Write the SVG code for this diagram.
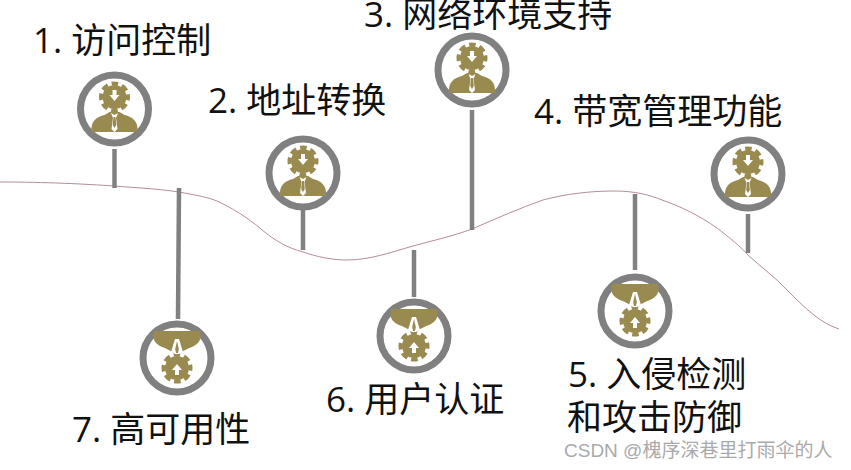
<svg xmlns="http://www.w3.org/2000/svg" width="851" height="470" viewBox="0 0 851 470">
<style>
.t{font-family:"Open Sans","Noto Sans CJK SC",sans-serif;font-size:35px;fill:#111}
.ring{fill:#fff;stroke:#808080;stroke-width:7}
.stem{stroke:#808080;stroke-width:4.5;fill:none}
.curve{fill:none;stroke:#b58e94;stroke-width:1}
.wm{font-family:"Liberation Sans","Noto Sans CJK SC",sans-serif;font-size:19px;fill:#aaa}
</style>
<defs>
<g id="gear">
<circle cx="0" cy="0" r="12" fill="#998a50"/>
<circle cx="0" cy="0" r="13.500" fill="none" stroke="#998a50" stroke-width="4" stroke-dasharray="6.600 4" stroke-dashoffset="3.300"/>
<path d="M-2 -7H2V-2H5L0 4L-5 -2H-2Z" fill="#fff"/>
</g>
<g id="icon">
<use href="#gear" y="-12"/>
<path d="M-23 23C-24 12 -18 8 -10 6L-5 3H5L10 6C18 8 24 12 23 23Z" fill="#998a50"/>
<path d="M-3.500 4L-1.500 9L-3 20L0 23L3 20L1.500 9L3.500 4L0 6Z" fill="#fff"/>
<path d="M-1 8H1L1.800 16L0 19L-1.800 16Z" fill="#998a50"/>
</g>
<g id="iconf">
<use href="#gear" transform="translate(0 10) scale(1 -1)"/>
<path d="M-23 -27H23C25 -19 22 -14 15 -11C10 -9 7 -8 4 -5H-4C-7 -8 -10 -9 -15 -11C-22 -14 -25 -19 -23 -27Z" fill="#998a50"/>
<path d="M-2 -19H2L6 -6L2 -4H-2L-6 -6Z" fill="#fff"/>
<path d="M0 -17L1.800 -9L1 -5H-1L-1.800 -9Z" fill="#998a50"/>
</g>
</defs>
<g id="connectors">
<path class="curve" d="M0 182C45 182 85 184 114 186C140 188 160 189 179 192C195 195 207 197 217 201C232 208 247 217 261 229C275 241 288 248 303 252C318 257 332 260 347 260C370 260 392 252 413 246C435 240 453 236 472 229C495 219 520 208 543 200C565 194 590 191 614 191C635 191 650 195 662 200C680 206 700 216 717 228C730 238 740 246 749 256C762 268 775 277 787 290C805 308 820 323 839 329"/>
<path class="stem" d="M114.500 149V188"/>
<path class="stem" d="M179 188L178 319"/>
<path class="stem" d="M303 210V250"/>
<path class="stem" d="M472 110V230"/>
<path class="stem" d="M748 214V253"/>
<path class="stem" d="M635 194V270"/>
<path class="stem" d="M414 250V297"/>
</g>
<g id="node1"><circle class="ring" cx="114.500" cy="109" r="34"/><use href="#icon" x="114.500" y="109"/><text class="t" x="33" y="53">1. 访问控制</text></g>
<g id="node2"><circle class="ring" cx="303" cy="173" r="34"/><use href="#icon" x="303" y="173"/><text class="t" x="208" y="113">2. 地址转换</text></g>
<g id="node3"><circle class="ring" cx="472" cy="70" r="34"/><use href="#icon" x="472" y="70"/><text class="t" x="364" y="27">3. 网络环境支持</text></g>
<g id="node4"><circle class="ring" cx="748" cy="174" r="34"/><use href="#icon" x="748" y="174"/><text class="t" x="534" y="124">4. 带宽管理功能</text></g>
<g id="node5"><circle class="ring" cx="635" cy="311" r="34"/><use href="#iconf" x="635" y="311"/><text class="t" x="568" y="387">5. 入侵检测</text><text class="t" x="567" y="430">和攻击防御</text></g>
<g id="node6"><circle class="ring" cx="414" cy="336" r="34"/><use href="#iconf" x="414" y="336"/><text class="t" x="326" y="412">6. 用户认证</text></g>
<g id="node7"><circle class="ring" cx="177" cy="358" r="34"/><use href="#iconf" x="177" y="358"/><text class="t" x="72" y="442">7. 高可用性</text></g>
<text class="wm" x="564" y="457">CSDN @槐序深巷里打雨伞的人</text>
</svg>
